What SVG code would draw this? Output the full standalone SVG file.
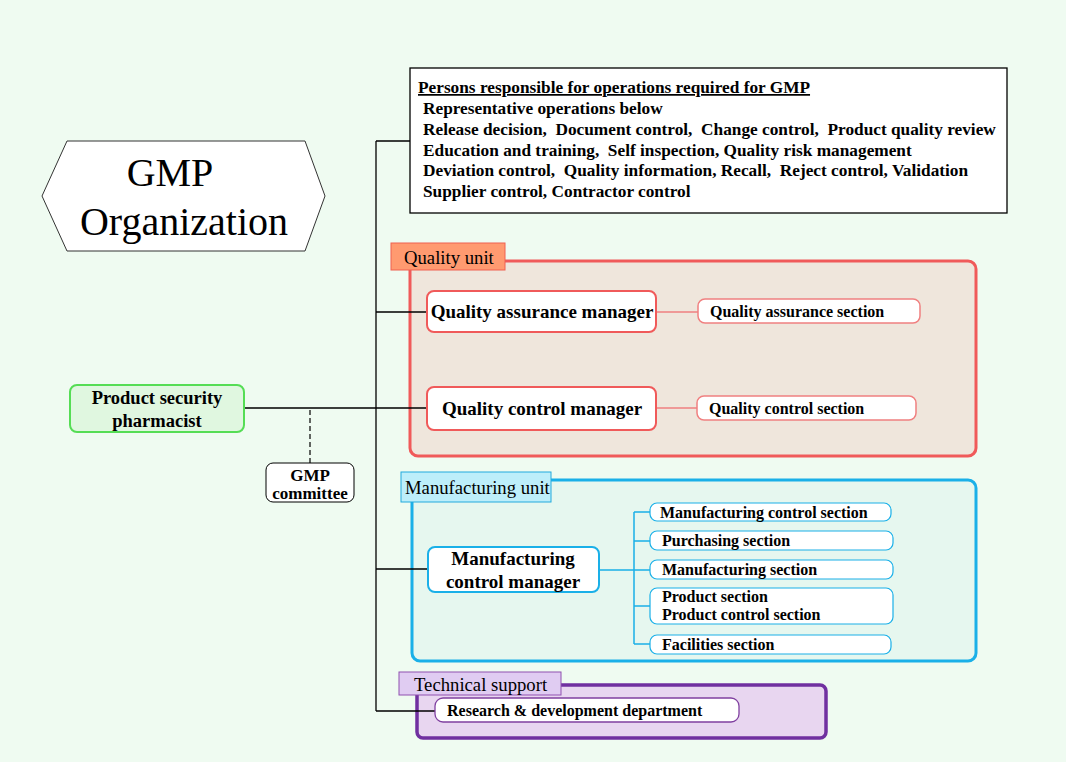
<svg xmlns="http://www.w3.org/2000/svg" width="1066" height="762" viewBox="0 0 1066 762">
<style>
text{font-family:"Liberation Serif","Times New Roman",serif;fill:#000;white-space:pre}
.t15{font-size:17.3px;font-weight:bold}
.t14{font-size:16px;font-weight:bold}
.t17{font-size:19px;font-weight:bold}
.tc{font-size:17px;font-weight:bold}
.lbl{font-size:18.7px}
.qm{fill:#fff;stroke:#f05a5a;stroke-width:2}
.qs{fill:#fff;stroke:#f08080;stroke-width:1.5}
.mm{fill:#fff;stroke:#1ab0e8;stroke-width:2}
.ms{fill:#fff;stroke:#1ab0e8;stroke-width:1.2}
.k{stroke:#000;stroke-width:1.3;fill:none}
</style>
<rect width="1066" height="762" fill="#effbf1"/>
<g id="title">
<polygon points="42,196 67,141 305,141 325,196 305,251 67,251" fill="#fff" stroke="#333" stroke-width="1"/>
<text x="170" y="186" font-size="40" text-anchor="middle">GMP</text>
<text x="184" y="235" font-size="40" text-anchor="middle">Organization</text>
</g>
<g id="quality-unit">
<rect x="410" y="261" width="566" height="195" rx="8" fill="#efe6dc" stroke="#f05a5a" stroke-width="3"/>
<rect x="391" y="243" width="114" height="27" fill="#ff9a70" stroke="#f06050" stroke-width="1"/>
<text x="404" y="264" class="lbl">Quality unit</text>
</g>
<g id="manufacturing-unit">
<rect x="412" y="480" width="564" height="181" rx="8" fill="#e6f7ef" stroke="#1ab0e8" stroke-width="3"/>
<rect x="401" y="472" width="150" height="30" fill="#bdeefa" stroke="#22aadd" stroke-width="1"/>
<text x="405" y="494" class="lbl">Manufacturing unit</text>
</g>
<g id="technical-support">
<rect x="417" y="685" width="409" height="53" rx="6" fill="#e8d6f0" stroke="#7030a0" stroke-width="3.5"/>
<rect x="399" y="672" width="162" height="23" fill="#e0ccf2" stroke="#9050b0" stroke-width="1"/>
<text x="414" y="691" class="lbl">Technical support</text>
</g>
<g id="connectors">
<path class="k" d="M376,141 V711 M376,141 H410 M376,312 H428 M244,408 H428 M376,569 H428 M376,711 H435"/>
<path d="M310,410 V463" stroke="#000" stroke-width="1.2" stroke-dasharray="5,3"/>
<path d="M656,312 H698 M656,408 H697" stroke="#f08080" stroke-width="1.5"/>
<path d="M599,570 H634 M634,512 V644 M634,512 H650 M634,541 H650 M634,570 H650 M634,606 H650 M634,644 H650" stroke="#1ab0e8" stroke-width="1.5" fill="none"/>
</g>
<g id="gmp-ops">
<rect x="410" y="68" width="597" height="145" fill="#fff" stroke="#000" stroke-width="1.3"/>
<text x="418" y="93" class="t15" text-decoration="underline">Persons responsible for operations required for GMP</text>
<text x="423" y="114" class="t15">Representative operations below</text>
<text x="423" y="135" class="t15">Release decision,  Document control,  Change control,  Product quality review</text>
<text x="423" y="156" class="t15">Education and training,  Self inspection, Quality risk management</text>
<text x="423" y="176" class="t15">Deviation control,  Quality information, Recall,  Reject control, Validation</text>
<text x="423" y="197" class="t15">Supplier control, Contractor control</text>
</g>
<g id="pharmacist">
<rect x="70" y="385" width="174" height="47" rx="7" fill="#e0f7e0" stroke="#55dd55" stroke-width="2"/>
<text x="157" y="404" font-size="18.5" font-weight="bold" text-anchor="middle">Product security</text>
<text x="157" y="427" font-size="18.5" font-weight="bold" text-anchor="middle">pharmacist</text>
</g>
<g id="committee">
<rect x="266" y="463" width="88" height="39" rx="7" fill="#fff" stroke="#000" stroke-width="1"/>
<text x="310" y="481" class="tc" text-anchor="middle">GMP</text>
<text x="310" y="499" class="tc" text-anchor="middle">committee</text>
</g>
<g id="qa-manager">
<rect x="427" y="291" width="229" height="41" rx="7" class="qm"/>
<text x="542" y="318" class="t17" text-anchor="middle">Quality assurance manager</text>
</g>
<g id="qa-section">
<rect x="698" y="299" width="222" height="24" rx="7" class="qs"/>
<text x="710" y="317" class="t14">Quality assurance section</text>
</g>
<g id="qc-manager">
<rect x="427" y="387" width="229" height="43" rx="7" class="qm"/>
<text x="542" y="415" class="t17" text-anchor="middle">Quality control manager</text>
</g>
<g id="qc-section">
<rect x="697" y="396" width="219" height="24" rx="7" class="qs"/>
<text x="709" y="414" class="t14">Quality control section</text>
</g>
<g id="mfg-manager">
<rect x="428" y="547" width="171" height="45" rx="7" class="mm"/>
<text x="513" y="565" class="t17" text-anchor="middle">Manufacturing</text>
<text x="513" y="588" class="t17" text-anchor="middle">control manager</text>
</g>
<g id="mfg-control-section">
<rect x="650" y="503" width="241" height="18" rx="7" class="ms"/>
<text x="660" y="518" class="t14">Manufacturing control section</text>
</g>
<g id="purchasing-section">
<rect x="650" y="531" width="243" height="19" rx="7" class="ms"/>
<text x="662" y="546" class="t14">Purchasing section</text>
</g>
<g id="manufacturing-section">
<rect x="650" y="560" width="243" height="19" rx="7" class="ms"/>
<text x="662" y="575" class="t14">Manufacturing section</text>
</g>
<g id="product-section">
<rect x="650" y="588" width="243" height="36" rx="7" class="ms"/>
<text x="662" y="602" class="t14">Product section</text>
<text x="662" y="620" class="t14">Product control section</text>
</g>
<g id="facilities-section">
<rect x="650" y="635" width="241" height="19" rx="7" class="ms"/>
<text x="662" y="650" class="t14">Facilities section</text>
</g>
<g id="rnd">
<rect x="435" y="698" width="304" height="24" rx="8" fill="#fff" stroke="#8040a0" stroke-width="1.3"/>
<text x="447" y="716" class="t14">Research &amp; development department</text>
</g>
</svg>
